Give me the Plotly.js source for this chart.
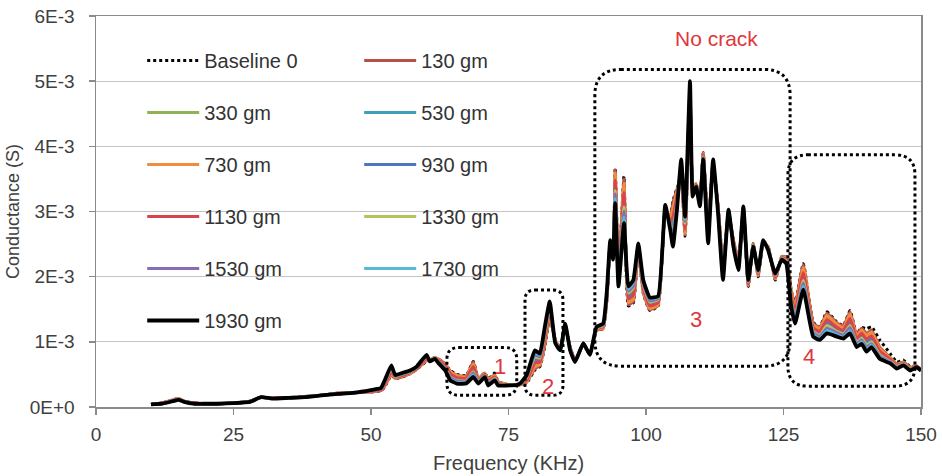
<!DOCTYPE html>
<html>
<head>
<meta charset="utf-8">
<script src="https://cdn.plot.ly/plotly-3.0.1.min.js"></script>
<style>html,body{margin:0;padding:0;background:#fff;}#chart{width:942px;height:476px;}</style>
</head>
<body>
<div id="chart"></div>
<script>
// Frequency (KHz)
const freq = [10,12,14,15,16,18,20,22,25,28,30,32,35,38,41,44,47,50,51.8,52.5,53.7,54.4,55.6,57.1,58.3,60.1,60.7,61.6,62.2,63.5,64.4,65.6,67.3,68.6,69.5,70.7,71.3,72.5,73.1,74.5,76.5,77.1,78.3,79.8,80.7,81.6,82.5,83.5,84.4,85.3,86.2,87.1,88.6,89.8,91.0,92.2,92.9,93.5,94.0,94.4,95.0,96.0,96.8,97.7,98.6,99.5,100.7,102.2,103.5,104.4,104.9,105.6,106.4,107.1,108.0,108.5,109.1,109.8,110.4,111.3,112.2,113.1,114.0,115.0,115.9,116.8,117.7,118.6,119.5,120.4,121.3,122.2,123.5,124.7,125.5,126.4,127.1,128.6,130.4,131.6,132.9,134.7,135.9,137.1,138.3,139.2,140.1,141.0,142.5,144.4,145.6,146.8,148.0,149.2,150];

// Conductance values in mS (1E-3 S)
const baseline0 = [.04,.06,.11,.13,.09,.06,.05,.05,.06,.09,.15,.14,.14,.16,.18,.21,.22,.23,.25,.31,.49,.44,.46,.51,.58,.70,.72,.76,.74,.66,.56,.50,.48,.70,.44,.52,.43,.52,.39,.35,.34,.34,.37,.57,.62,.93,1.37,1.03,.89,1.23,.92,.72,.95,.82,1.18,1.20,1.65,2.46,2.36,3.67,2.05,3.54,1.55,1.60,2.41,1.75,1.48,1.55,3.00,2.92,3.16,3.35,3.50,2.62,4.65,3.33,3.43,3.18,3.90,2.81,3.70,3.08,2.20,2.93,2.56,2.25,2.98,1.85,2.51,2.00,2.51,2.46,1.95,2.31,2.30,1.79,1.58,2.20,1.30,1.23,1.46,1.30,1.25,1.48,1.12,1.22,1.20,1.23,1.03,.82,.69,.72,.62,.63,.57];
const g130 = [.04,.06,.11,.13,.09,.06,.05,.05,.06,.09,.15,.14,.14,.16,.18,.21,.22,.23,.25,.32,.50,.44,.46,.51,.58,.71,.72,.76,.74,.66,.55,.49,.47,.69,.44,.52,.43,.49,.39,.35,.34,.34,.38,.59,.63,.95,1.38,1.03,.89,1.23,.92,.72,.95,.82,1.18,1.20,1.66,2.47,2.36,3.64,2.04,3.50,1.57,1.62,2.42,1.76,1.49,1.56,3.01,2.91,3.13,3.33,3.52,2.64,4.67,3.33,3.43,3.18,3.90,2.80,3.71,3.08,2.19,2.94,2.56,2.24,2.99,1.86,2.51,2.01,2.51,2.46,1.96,2.31,2.30,1.78,1.57,2.18,1.29,1.22,1.44,1.29,1.24,1.46,1.11,1.21,1.13,1.18,.92,.76,.66,.69,.61,.63,.56];
const g330 = [.04,.06,.10,.13,.09,.06,.05,.05,.06,.09,.15,.14,.14,.16,.18,.21,.22,.24,.26,.34,.53,.45,.48,.52,.59,.73,.72,.76,.73,.64,.52,.47,.45,.64,.42,.51,.41,.47,.38,.35,.34,.35,.40,.65,.67,1.01,1.43,1.02,.89,1.24,.91,.71,.96,.82,1.19,1.22,1.69,2.49,2.34,3.54,2.00,3.36,1.63,1.69,2.44,1.80,1.53,1.59,3.03,2.87,2.99,3.26,3.58,2.70,4.74,3.31,3.42,3.16,3.88,2.74,3.73,3.06,2.14,2.96,2.54,2.21,3.01,1.88,2.50,2.03,2.52,2.45,1.98,2.30,2.28,1.73,1.51,2.10,1.25,1.18,1.38,1.25,1.20,1.39,1.07,1.16,1.07,1.12,.88,.74,.65,.68,.60,.62,.56];
const g530 = [.04,.06,.10,.12,.09,.06,.05,.05,.06,.09,.15,.14,.14,.16,.18,.21,.22,.24,.27,.36,.56,.46,.49,.53,.60,.75,.71,.75,.71,.62,.49,.44,.43,.59,.40,.49,.39,.45,.36,.34,.34,.35,.42,.71,.71,1.07,1.48,1.01,.88,1.25,.90,.71,.96,.81,1.20,1.24,1.72,2.51,2.32,3.43,1.96,3.22,1.69,1.76,2.46,1.84,1.57,1.62,3.05,2.83,2.85,3.19,3.64,2.76,4.81,3.29,3.41,3.14,3.86,2.68,3.75,3.04,2.09,2.98,2.52,2.18,3.03,1.90,2.49,2.05,2.53,2.44,2.00,2.29,2.26,1.68,1.45,2.02,1.20,1.14,1.31,1.20,1.16,1.32,1.03,1.11,1.01,1.06,.84,.72,.63,.67,.59,.62,.56];
const g730 = [.04,.06,.11,.13,.09,.06,.05,.05,.06,.09,.15,.14,.14,.16,.18,.21,.22,.23,.26,.33,.51,.45,.47,.52,.59,.72,.72,.76,.73,.65,.54,.48,.46,.66,.43,.51,.42,.48,.38,.35,.34,.34,.39,.62,.65,.98,1.41,1.02,.89,1.24,.91,.72,.95,.82,1.19,1.21,1.67,2.48,2.35,3.59,2.02,3.43,1.60,1.65,2.43,1.78,1.51,1.57,3.02,2.89,3.06,3.30,3.55,2.67,4.70,3.32,3.42,3.17,3.89,2.77,3.72,3.07,2.16,2.95,2.55,2.23,3.00,1.87,2.50,2.02,2.52,2.45,1.97,2.30,2.29,1.75,1.54,2.14,1.27,1.20,1.41,1.27,1.22,1.43,1.09,1.18,1.10,1.15,.90,.75,.65,.68,.60,.63,.56];
const g930 = [.04,.05,.10,.12,.08,.05,.05,.05,.06,.08,.15,.13,.14,.15,.18,.20,.22,.25,.27,.37,.57,.47,.49,.54,.60,.76,.71,.75,.71,.61,.48,.42,.41,.57,.40,.49,.38,.45,.36,.34,.34,.35,.44,.74,.73,1.10,1.51,1.00,.88,1.26,.89,.70,.97,.81,1.21,1.24,1.73,2.52,2.31,3.37,1.94,3.14,1.72,1.79,2.47,1.86,1.59,1.63,3.06,2.81,2.78,3.16,3.67,2.79,4.84,3.28,3.40,3.13,3.85,2.65,3.76,3.03,2.06,2.99,2.51,2.17,3.04,1.91,2.48,2.06,2.54,2.43,2.01,2.28,2.25,1.65,1.42,1.98,1.18,1.12,1.28,1.18,1.14,1.29,1.01,1.08,.98,1.03,.82,.71,.62,.66,.58,.62,.56];
const g1130 = [.04,.06,.10,.12,.09,.06,.05,.05,.06,.09,.15,.14,.14,.16,.18,.21,.22,.24,.26,.35,.54,.46,.48,.53,.59,.74,.71,.75,.72,.63,.51,.45,.44,.62,.41,.50,.40,.46,.37,.34,.34,.35,.41,.68,.69,1.04,1.46,1.01,.88,1.25,.90,.71,.96,.81,1.20,1.23,1.70,2.50,2.33,3.48,1.98,3.29,1.66,1.72,2.45,1.82,1.55,1.60,3.04,2.85,2.92,3.23,3.61,2.73,4.77,3.30,3.41,3.15,3.87,2.71,3.74,3.05,2.11,2.97,2.53,2.20,3.02,1.89,2.49,2.04,2.53,2.44,1.99,2.29,2.27,1.70,1.48,2.06,1.22,1.16,1.34,1.22,1.18,1.36,1.05,1.13,1.04,1.09,.86,.73,.64,.67,.59,.62,.56];
const g1330 = [.04,.05,.10,.12,.08,.05,.05,.05,.06,.08,.15,.13,.14,.15,.18,.20,.22,.25,.28,.38,.59,.47,.50,.54,.61,.77,.71,.75,.70,.60,.46,.41,.40,.54,.39,.48,.37,.44,.35,.34,.34,.35,.45,.77,.75,1.13,1.53,1.00,.88,1.26,.89,.70,.97,.81,1.21,1.25,1.75,2.53,2.30,3.32,1.92,3.07,1.75,1.83,2.47,1.88,1.61,1.65,3.07,2.79,2.71,3.12,3.70,2.82,4.88,3.27,3.40,3.12,3.84,2.62,3.77,3.02,2.04,3.00,2.50,2.15,3.05,1.92,2.48,2.07,2.54,2.43,2.02,2.28,2.24,1.63,1.39,1.94,1.16,1.10,1.25,1.16,1.12,1.25,.99,1.06,.95,1.00,.80,.70,.62,.66,.58,.61,.56];
const g1530 = [.04,.05,.10,.12,.08,.05,.05,.05,.06,.08,.15,.13,.14,.15,.18,.20,.22,.25,.28,.39,.60,.48,.50,.55,.61,.78,.71,.75,.70,.59,.45,.40,.39,.52,.38,.48,.36,.43,.35,.33,.34,.36,.46,.80,.77,1.16,1.56,.99,.88,1.27,.88,.70,.97,.81,1.22,1.26,1.76,2.54,2.29,3.27,1.90,3.00,1.78,1.86,2.48,1.90,1.63,1.66,3.08,2.77,2.64,3.09,3.73,2.85,4.91,3.26,3.39,3.11,3.83,2.59,3.78,3.01,2.01,3.01,2.49,2.14,3.06,1.93,2.47,2.08,2.55,2.42,2.03,2.27,2.23,1.60,1.36,1.90,1.14,1.08,1.21,1.14,1.10,1.22,.97,1.03,.92,.97,.78,.69,.61,.65,.57,.61,.56];
const g1730 = [.04,.05,.09,.11,.08,.05,.05,.05,.06,.08,.15,.13,.14,.15,.18,.20,.22,.26,.29,.40,.62,.48,.51,.55,.62,.79,.70,.74,.69,.57,.43,.38,.37,.49,.37,.47,.34,.42,.34,.33,.34,.36,.48,.83,.80,1.19,1.59,.99,.87,1.27,.88,.69,.98,.80,1.22,1.27,1.78,2.55,2.27,3.19,1.87,2.91,1.81,1.91,2.50,1.93,1.66,1.68,3.09,2.74,2.54,3.04,3.76,2.88,4.96,3.24,3.39,3.09,3.81,2.55,3.79,2.99,1.98,3.02,2.47,2.12,3.07,1.94,2.47,2.09,2.55,2.42,2.04,2.27,2.21,1.57,1.32,1.85,1.11,1.05,1.17,1.11,1.07,1.17,.94,1.00,.88,.95,.76,.68,.60,.65,.57,.61,.56];
const g1930 = [.04,.05,.09,.11,.08,.05,.05,.05,.06,.08,.15,.13,.14,.15,.18,.20,.22,.26,.29,.41,.64,.49,.52,.56,.62,.80,.70,.74,.68,.56,.41,.36,.36,.46,.36,.46,.33,.41,.33,.33,.34,.36,.49,.87,.82,1.23,1.62,.98,.87,1.28,.87,.69,.98,.80,1.23,1.28,1.80,2.56,2.26,3.13,1.85,2.82,1.85,1.95,2.51,1.95,1.68,1.70,3.10,2.72,2.46,3.00,3.80,2.92,5.00,3.23,3.38,3.08,3.80,2.51,3.80,2.98,1.95,3.03,2.46,2.10,3.08,1.95,2.46,2.10,2.56,2.41,2.05,2.26,2.20,1.54,1.28,1.80,1.08,1.03,1.13,1.08,1.05,1.13,.92,.97,.85,.92,.74,.67,.59,.64,.56,.61,.56];

const yTickVals = [0, 0.001, 0.002, 0.003, 0.004, 0.005, 0.006];
const yTickText = ['0E+0', '1E-3', '2E-3', '3E-3', '4E-3', '5E-3', '6E-3'];
const xTickVals = [0, 25, 50, 75, 100, 125, 150];

const toS = v => v * 1e-3; // mS -> S

const seriesDefs = [
  {name: 'Baseline 0', y: baseline0, color: '#000000', dash: 'dot', width: 3, legend: 'legend'},
  {name: '130 gm', y: g130, color: '#b5504c', legend: 'legend2'},
  {name: '330 gm', y: g330, color: '#8fb255', legend: 'legend'},
  {name: '530 gm', y: g530, color: '#3f9fb8', legend: 'legend2'},
  {name: '730 gm', y: g730, color: '#f08c3e', legend: 'legend'},
  {name: '930 gm', y: g930, color: '#4a78c0', legend: 'legend2'},
  {name: '1130 gm', y: g1130, color: '#d9434e', legend: 'legend'},
  {name: '1330 gm', y: g1330, color: '#b2c45a', legend: 'legend2'},
  {name: '1530 gm', y: g1530, color: '#8a6bb5', legend: 'legend'},
  {name: '1730 gm', y: g1730, color: '#55b9da', legend: 'legend2'},
  {name: '1930 gm', y: g1930, color: '#000000', width: 3.8, legend: 'legend'}
];

const traces = seriesDefs.map(s => ({
  type: 'scatter', mode: 'lines', name: s.name,
  x: freq, y: s.y.map(toS),
  line: {color: s.color, width: s.width || 3, dash: s.dash || 'solid', shape: 'spline', smoothing: 0.4},
  legend: s.legend, legendgroup: s.name
}));

const plotW = 825, plotH = 391, xSpan = 150, ySpan = 0.006;
function roundRect(x0, x1, y0, y1, r) {
  const rx = r * xSpan / plotW, ry = r * ySpan / plotH;
  return `M${x0+rx},${y1} L${x1-rx},${y1} Q${x1},${y1} ${x1},${y1-ry} L${x1},${y0+ry} Q${x1},${y0} ${x1-rx},${y0} L${x0+rx},${y0} Q${x0},${y0} ${x0},${y0+ry} L${x0},${y1-ry} Q${x0},${y1} ${x0+rx},${y1} Z`;
}
const boxLine = {color: '#000000', width: 3, dash: 'dot'};
const shapes = [
  [63.8, 76.5, 0.00018, 0.000913, 12],
  [78.0, 84.9, 0.00018, 0.001795, 10],
  [90.7, 126.2, 0.000626, 0.00518, 26],
  [125.8, 148.9, 0.00032, 0.00387, 20]
].map(b => ({type: 'path', xref: 'x', yref: 'y', path: roundRect(b[0], b[1], b[2], b[3], b[4]), line: boxLine}));

const red = '#e0363c';
const annFont = {family: 'Liberation Sans, Arial, sans-serif', size: 22, color: red};
const annotations = [
  {x: 112.9, y: 0.00566, text: 'No crack', font: {family: 'Liberation Sans, Arial, sans-serif', size: 21, color: red}},
  {x: 73.5, y: 0.00062, text: '1', font: annFont},
  {x: 82.2, y: 0.00031, text: '2', font: annFont},
  {x: 109.1, y: 0.00134, text: '3', font: annFont},
  {x: 129.7, y: 0.00077, text: '4', font: annFont}
].map(a => Object.assign({xref: 'x', yref: 'y', showarrow: false, xanchor: 'center', yanchor: 'middle'}, a));

const axisColor = '#8a8a8a';
const tickFont = {family: 'Liberation Sans, Arial, sans-serif', size: 19, color: '#404040'};
const legendBase = {
  xanchor: 'left', yanchor: 'top', bgcolor: 'rgba(0,0,0,0)',
  font: {family: 'Liberation Sans, Arial, sans-serif', size: 20, color: '#333333'},
  itemwidth: 52, tracegroupgap: 23, traceorder: 'grouped'
};

const layout = {
  width: 942, height: 476,
  margin: {l: 96, r: 21, t: 16, b: 69},
  paper_bgcolor: '#ffffff', plot_bgcolor: '#ffffff',
  showlegend: true,
  legend: Object.assign({x: 0.056, y: 0.936}, legendBase),
  legend2: Object.assign({x: 0.319, y: 0.936}, legendBase),
  xaxis: {
    range: [0, 150], tickvals: xTickVals, showgrid: false, zeroline: false,
    showline: true, mirror: true, linecolor: axisColor, linewidth: 1.5,
    ticks: 'outside', ticklen: 6, tickcolor: axisColor, tickwidth: 1.5,
    tickfont: tickFont, ticklabelstandoff: 4,
    title: {text: 'Frequency (KHz)', font: {family: 'Liberation Sans, Arial, sans-serif', size: 20, color: '#404040'}, standoff: 11}
  },
  yaxis: {
    range: [0, 0.006], tickvals: yTickVals, ticktext: yTickText,
    showgrid: true, gridcolor: '#c4c4c4', gridwidth: 1.3, zeroline: false,
    showline: true, mirror: true, linecolor: axisColor, linewidth: 1.5,
    ticks: 'outside', ticklen: 6, tickcolor: axisColor, tickwidth: 1.5,
    tickfont: tickFont, ticklabelstandoff: 10,
    title: {text: 'Conductance (S)', font: {family: 'Liberation Sans, Arial, sans-serif', size: 18, color: '#404040'}, standoff: 5}
  },
  shapes: shapes,
  annotations: annotations
};

Plotly.newPlot('chart', traces, layout, {displayModeBar: false, staticPlot: true});
</script>
</body>
</html>
